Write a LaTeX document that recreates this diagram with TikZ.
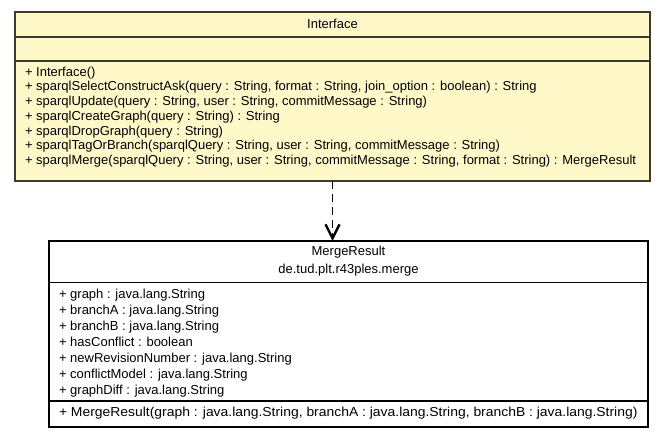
\documentclass[tikz,border=0pt]{standalone}
\usepackage{fontspec}
\usepackage{graphicx}
\setmainfont{Liberation Sans}
\usetikzlibrary{arrows.meta}
\definecolor{umlfill}{RGB}{255,249,202}
\definecolor{umledge}{RGB}{60,60,45}
\begin{document}
\begin{tikzpicture}[x=1pt,y=-1pt,
  every node/.style={font=\fontsize{13}{15}\selectfont, inner sep=0pt, outer sep=0pt},
  ifbox/.style={draw=umledge, fill=umlfill, line width=1.6pt, rectangle, anchor=north west},
  mrbox/.style={draw=black, fill=white, line width=1.1pt, rectangle, anchor=north west},
  ifsep/.style={draw=umledge, line width=1.6pt},
  mrsep/.style={draw=black, line width=1.1pt},
  txt/.style={anchor=base west},
  ttl/.style={anchor=base},
  dep/.style={dash pattern=on 8pt off 5pt, line width=1.5pt, -{Straight Barb[length=14pt,width=14pt,line width=2.4pt]}}
]
\useasboundingbox (0,0) rectangle (664,437);
% Interface class
\node[ifbox, minimum width=635pt, minimum height=169pt] (iface) at (15,12) {};
\draw[ifsep] (iface.west |- 0,37) -- (iface.east |- 0,37);
\draw[ifsep] (iface.west |- 0,61) -- (iface.east |- 0,61);
\node[ttl] (ifttl) at (iface.north |- 0,28) {Interface};
\foreach \t [count=\i from 0] in {%
  {+ Interface()},
  {+ sparqlSelectConstructAsk(query : String, format : String, join\_option : boolean) : String},
  {+ sparqlUpdate(query : String, user : String, commitMessage : String)},
  {+ sparqlCreateGraph(query : String) : String},
  {+ sparqlDropGraph(query : String)},
  {+ sparqlTagOrBranch(sparqlQuery : String, user : String, commitMessage : String)},
  {+ sparqlMerge(sparqlQuery : String, user : String, commitMessage : String, format : String) : MergeResult}}
  \node[txt] (ifm\i) at (25,76.2+14.7*\i) {\t};
% MergeResult class
\node[mrbox, minimum width=599pt, minimum height=186pt] (merge) at (49,241) {};
\draw[mrsep] (merge.west |- 0,282.3) -- (merge.east |- 0,282.3);
\draw[mrsep] (merge.west |- 0,401) -- (merge.east |- 0,401);
\node[ttl] (mrttl) at (merge.north |- 0,255.8) {MergeResult};
\node[ttl] (mrpkg) at (merge.north |- 0,273.8) {de.tud.plt.r43ples.merge};
\foreach \t [count=\i from 0] in {%
  {+ graph : java.lang.String},
  {+ branchA : java.lang.String},
  {+ branchB : java.lang.String},
  {+ hasConflict : boolean},
  {+ newRevisionNumber : java.lang.String},
  {+ conflictModel : java.lang.String},
  {+ graphDiff : java.lang.String}}
  \node[txt] (mra\i) at (59,298.5+16*\i) {\t};
\node[txt] (mrc) at (59,416.8) {\scalebox{1.07}[1]{+ MergeResult(graph : java.lang.String, branchA : java.lang.String, branchB : java.lang.String)}};
% dependency
\draw[dep] (iface.south) -- (iface.south |- merge.north);
\end{tikzpicture}
\end{document}
